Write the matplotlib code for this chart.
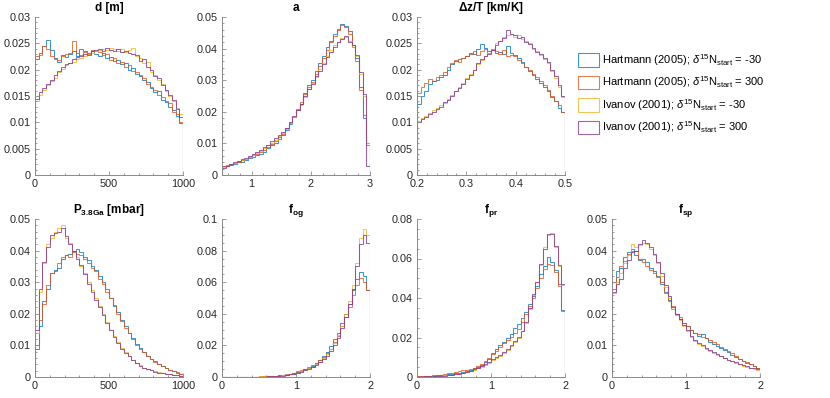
import numpy as np
import matplotlib.pyplot as plt
from matplotlib.patches import Patch
from matplotlib.ticker import FuncFormatter, MultipleLocator, AutoMinorLocator

plt.rcParams['font.family'] = ['Liberation Sans', 'DejaVu Sans']
plt.rcParams['mathtext.fontset'] = 'custom'
plt.rcParams['mathtext.rm'] = 'Liberation Sans'
plt.rcParams['mathtext.it'] = 'Liberation Sans:italic'
plt.rcParams['mathtext.bf'] = 'Liberation Sans:bold'

series_labels = [r'Hartmann (2005); $\delta^{15}$N$_{\rm start}$ = -30',
                 r'Hartmann (2005); $\delta^{15}$N$_{\rm start}$ = 300',
                 r'Ivanov (2001); $\delta^{15}$N$_{\rm start}$ = -30',
                 r'Ivanov (2001); $\delta^{15}$N$_{\rm start}$ = 300']
colors = ['#0072BD', '#D95319', '#EDB120', '#7E2F8E']

# --- histogram values (probability per bin), 40 bins each ---
d_h30 = [0.0220,0.0232,0.0245,0.0256,0.0238,0.0222,0.0215,0.0228,0.0224,0.0230,0.0236,0.0226,0.0240,0.0235,0.0232,0.0236,0.0230,0.0226,0.0232,0.0222,
         0.0224,0.0216,0.0218,0.0210,0.0212,0.0200,0.0204,0.0192,0.0188,0.0180,0.0176,0.0166,0.0158,0.0160,0.0142,0.0138,0.0130,0.0124,0.0112,0.0098]
d_h300 = [0.0225,0.0228,0.0245,0.0240,0.0225,0.0220,0.0218,0.0226,0.0230,0.0232,0.0255,0.0232,0.0228,0.0234,0.0230,0.0238,0.0236,0.0234,0.0228,0.0230,
          0.0218,0.0222,0.0212,0.0214,0.0206,0.0208,0.0198,0.0196,0.0190,0.0184,0.0172,0.0168,0.0162,0.0152,0.0148,0.0140,0.0136,0.0120,0.0116,0.0100]
d_i30 = [0.0140,0.0152,0.0162,0.0170,0.0178,0.0185,0.0195,0.0202,0.0208,0.0212,0.0215,0.0220,0.0222,0.0225,0.0230,0.0232,0.0236,0.0238,0.0240,0.0238,
         0.0242,0.0240,0.0236,0.0240,0.0234,0.0238,0.0242,0.0226,0.0222,0.0212,0.0214,0.0196,0.0190,0.0180,0.0172,0.0160,0.0150,0.0140,0.0128,0.0115]
d_i300 = [0.0145,0.0158,0.0165,0.0172,0.0180,0.0190,0.0198,0.0205,0.0210,0.0212,0.0220,0.0224,0.0226,0.0230,0.0228,0.0236,0.0238,0.0240,0.0236,0.0242,
          0.0238,0.0236,0.0240,0.0234,0.0236,0.0232,0.0230,0.0228,0.0216,0.0220,0.0205,0.0200,0.0188,0.0184,0.0170,0.0162,0.0152,0.0142,0.0125,0.0110]

a_h30 = [0.0030,0.0030,0.0032,0.0036,0.0040,0.0042,0.0048,0.0055,0.0058,0.0064,0.0068,0.0074,0.0085,0.0094,0.0102,0.0115,0.0126,0.0142,0.0160,0.0182,
         0.0205,0.0225,0.0260,0.0285,0.0300,0.0330,0.0355,0.0375,0.0405,0.0425,0.0445,0.0462,0.0478,0.0472,0.0455,0.0405,0.0370,0.0280,0.0180,0.0100]
a_h300 = [0.0028,0.0032,0.0035,0.0038,0.0042,0.0046,0.0050,0.0056,0.0062,0.0066,0.0072,0.0078,0.0088,0.0098,0.0108,0.0120,0.0130,0.0148,0.0165,0.0185,
          0.0210,0.0230,0.0255,0.0280,0.0295,0.0320,0.0345,0.0370,0.0395,0.0420,0.0440,0.0460,0.0475,0.0468,0.0445,0.0410,0.0360,0.0270,0.0190,0.0095]
a_i30 = [0.0025,0.0030,0.0034,0.0038,0.0044,0.0048,0.0052,0.0058,0.0064,0.0070,0.0076,0.0085,0.0094,0.0102,0.0112,0.0122,0.0132,0.0146,0.0165,0.0185,
         0.0205,0.0222,0.0248,0.0272,0.0290,0.0310,0.0335,0.0355,0.0375,0.0395,0.0410,0.0420,0.0432,0.0438,0.0425,0.0405,0.0375,0.0320,0.0250,0.0100]
a_i300 = [0.0022,0.0030,0.0035,0.0040,0.0045,0.0050,0.0055,0.0060,0.0066,0.0072,0.0080,0.0088,0.0096,0.0108,0.0118,0.0126,0.0135,0.0150,0.0168,0.0188,
          0.0205,0.0225,0.0250,0.0272,0.0288,0.0312,0.0330,0.0352,0.0372,0.0390,0.0405,0.0420,0.0430,0.0440,0.0420,0.0410,0.0380,0.0325,0.0255,0.0030]

dz_h30 = [0.0135,0.0150,0.0160,0.0172,0.0178,0.0180,0.0186,0.0190,0.0200,0.0210,0.0216,0.0220,0.0222,0.0225,0.0232,0.0230,0.0240,0.0248,0.0242,0.0236,
          0.0240,0.0232,0.0234,0.0230,0.0245,0.0232,0.0228,0.0222,0.0215,0.0205,0.0198,0.0190,0.0182,0.0175,0.0168,0.0160,0.0148,0.0140,0.0128,0.0120]
dz_h300 = [0.0155,0.0168,0.0175,0.0182,0.0178,0.0186,0.0190,0.0195,0.0205,0.0212,0.0218,0.0215,0.0222,0.0225,0.0230,0.0235,0.0228,0.0236,0.0240,0.0232,
           0.0238,0.0236,0.0230,0.0238,0.0226,0.0228,0.0225,0.0218,0.0212,0.0205,0.0200,0.0192,0.0186,0.0178,0.0170,0.0162,0.0150,0.0140,0.0132,0.0120]
dz_i30 = [0.0102,0.0108,0.0112,0.0118,0.0124,0.0128,0.0132,0.0136,0.0145,0.0152,0.0160,0.0168,0.0175,0.0185,0.0192,0.0200,0.0210,0.0218,0.0225,0.0232,
          0.0240,0.0250,0.0255,0.0262,0.0265,0.0268,0.0262,0.0265,0.0258,0.0255,0.0250,0.0240,0.0236,0.0228,0.0220,0.0212,0.0198,0.0185,0.0168,0.0148]
dz_i300 = [0.0100,0.0106,0.0110,0.0115,0.0120,0.0126,0.0130,0.0138,0.0142,0.0150,0.0160,0.0166,0.0172,0.0182,0.0190,0.0200,0.0212,0.0220,0.0225,0.0230,
           0.0238,0.0246,0.0255,0.0260,0.0275,0.0268,0.0265,0.0260,0.0262,0.0252,0.0248,0.0242,0.0234,0.0230,0.0222,0.0215,0.0200,0.0188,0.0170,0.0150]

p_h30 = [0.0090,0.0160,0.0240,0.0280,0.0330,0.0340,0.0345,0.0375,0.0385,0.0390,0.0400,0.0405,0.0395,0.0380,0.0370,0.0350,0.0340,0.0320,0.0300,0.0280,
         0.0250,0.0225,0.0205,0.0180,0.0160,0.0140,0.0122,0.0105,0.0092,0.0080,0.0068,0.0058,0.0050,0.0042,0.0035,0.0028,0.0022,0.0018,0.0014,0.0010]
p_h300 = [0.0100,0.0180,0.0230,0.0290,0.0330,0.0335,0.0360,0.0380,0.0385,0.0380,0.0395,0.0390,0.0385,0.0375,0.0360,0.0345,0.0335,0.0310,0.0295,0.0270,
          0.0250,0.0228,0.0200,0.0178,0.0155,0.0138,0.0120,0.0102,0.0088,0.0078,0.0066,0.0056,0.0048,0.0040,0.0034,0.0028,0.0022,0.0018,0.0015,0.0010]
p_i30 = [0.0140,0.0270,0.0360,0.0420,0.0440,0.0460,0.0470,0.0480,0.0440,0.0425,0.0400,0.0380,0.0350,0.0330,0.0300,0.0275,0.0250,0.0225,0.0200,0.0175,
         0.0150,0.0130,0.0110,0.0092,0.0078,0.0066,0.0055,0.0045,0.0037,0.0030,0.0026,0.0022,0.0018,0.0015,0.0012,0.0010,0.0008,0.0007,0.0005,0.0004]
p_i300 = [0.0150,0.0280,0.0365,0.0410,0.0450,0.0455,0.0460,0.0470,0.0445,0.0420,0.0400,0.0375,0.0355,0.0325,0.0295,0.0270,0.0245,0.0220,0.0195,0.0170,
          0.0148,0.0128,0.0108,0.0090,0.0076,0.0065,0.0054,0.0044,0.0036,0.0030,0.0025,0.0021,0.0017,0.0014,0.0012,0.0010,0.0008,0.0006,0.0005,0.0004]

og_h30 = [0,0,0,0,0,0.0001,0.0001,0.0002,0.0002,0.0003,0.0003,0.0004,0.0005,0.0006,0.0008,0.0010,0.0012,0.0015,0.0020,0.0026,
          0.0033,0.0040,0.0050,0.0060,0.0072,0.0088,0.0105,0.0130,0.0160,0.0195,0.0240,0.0280,0.0340,0.0400,0.0460,0.0550,0.0620,0.0665,0.0640,0.0550]
og_h300 = [0,0,0,0,0,0.0001,0.0001,0.0002,0.0002,0.0003,0.0004,0.0004,0.0006,0.0007,0.0009,0.0011,0.0013,0.0016,0.0021,0.0028,
           0.0035,0.0042,0.0052,0.0062,0.0075,0.0090,0.0110,0.0125,0.0150,0.0180,0.0220,0.0260,0.0320,0.0380,0.0440,0.0520,0.0580,0.0625,0.0600,0.0550]
og_i30 = [0,0,0,0,0,0.0001,0.0002,0.0002,0.0003,0.0003,0.0004,0.0004,0.0005,0.0005,0.0006,0.0008,0.0010,0.0013,0.0017,0.0022,
          0.0028,0.0035,0.0044,0.0055,0.0066,0.0080,0.0098,0.0120,0.0145,0.0175,0.0215,0.0265,0.0320,0.0400,0.0480,0.0580,0.0720,0.0880,0.0935,0.0900]
og_i300 = [0,0,0,0,0,0,0.0001,0.0001,0.0002,0.0002,0.0003,0.0003,0.0004,0.0005,0.0006,0.0007,0.0009,0.0012,0.0016,0.0021,
           0.0027,0.0034,0.0042,0.0052,0.0063,0.0076,0.0092,0.0112,0.0135,0.0165,0.0200,0.0250,0.0310,0.0380,0.0460,0.0560,0.0700,0.0840,0.0900,0.0845]

pr_h30 = [0.0003,0.0003,0.0004,0.0005,0.0006,0.0008,0.0010,0.0012,0.0014,0.0017,0.0020,0.0022,0.0026,0.0030,0.0036,0.0045,0.0052,0.0060,0.0075,0.0090,
          0.0120,0.0140,0.0160,0.0175,0.0195,0.0220,0.0250,0.0270,0.0300,0.0330,0.0370,0.0410,0.0460,0.0520,0.0560,0.0610,0.0580,0.0540,0.0470,0.0340]
pr_h300 = [0.0003,0.0004,0.0005,0.0006,0.0008,0.0010,0.0012,0.0014,0.0018,0.0022,0.0026,0.0030,0.0034,0.0036,0.0040,0.0048,0.0055,0.0065,0.0080,0.0095,
           0.0115,0.0130,0.0150,0.0170,0.0185,0.0205,0.0225,0.0245,0.0280,0.0320,0.0360,0.0400,0.0450,0.0500,0.0545,0.0570,0.0565,0.0530,0.0460,0.0335]
pr_i30 = [0.0002,0.0002,0.0003,0.0003,0.0004,0.0005,0.0006,0.0008,0.0010,0.0012,0.0014,0.0016,0.0020,0.0025,0.0030,0.0036,0.0044,0.0052,0.0062,0.0072,
          0.0085,0.0096,0.0106,0.0120,0.0135,0.0155,0.0178,0.0200,0.0232,0.0275,0.0345,0.0415,0.0480,0.0565,0.0660,0.0720,0.0730,0.0660,0.0560,0.0465]
pr_i300 = [0.0002,0.0002,0.0003,0.0003,0.0004,0.0005,0.0006,0.0007,0.0009,0.0011,0.0013,0.0016,0.0020,0.0026,0.0032,0.0038,0.0046,0.0055,0.0064,0.0074,
           0.0092,0.0100,0.0112,0.0125,0.0140,0.0160,0.0182,0.0205,0.0235,0.0280,0.0350,0.0420,0.0480,0.0570,0.0650,0.0725,0.0725,0.0665,0.0565,0.0470]

sp_h30 = [0.0300,0.0335,0.0345,0.0380,0.0395,0.0405,0.0385,0.0370,0.0375,0.0365,0.0345,0.0335,0.0320,0.0295,0.0270,0.0245,0.0215,0.0200,0.0185,0.0170,
          0.0160,0.0148,0.0138,0.0130,0.0135,0.0122,0.0112,0.0105,0.0098,0.0092,0.0085,0.0078,0.0070,0.0064,0.0056,0.0050,0.0045,0.0040,0.0034,0.0028]
sp_h300 = [0.0280,0.0315,0.0350,0.0368,0.0388,0.0400,0.0398,0.0375,0.0365,0.0350,0.0340,0.0330,0.0315,0.0300,0.0265,0.0240,0.0225,0.0200,0.0190,0.0172,
           0.0162,0.0150,0.0140,0.0135,0.0128,0.0124,0.0118,0.0110,0.0104,0.0096,0.0088,0.0082,0.0075,0.0066,0.0058,0.0050,0.0048,0.0042,0.0036,0.0030]
sp_i30 = [0.0265,0.0300,0.0330,0.0360,0.0385,0.0420,0.0410,0.0418,0.0425,0.0420,0.0405,0.0385,0.0360,0.0320,0.0285,0.0250,0.0215,0.0195,0.0180,0.0162,
          0.0145,0.0128,0.0115,0.0105,0.0098,0.0090,0.0083,0.0076,0.0070,0.0065,0.0060,0.0055,0.0050,0.0045,0.0040,0.0036,0.0032,0.0028,0.0025,0.0022]
sp_i300 = [0.0270,0.0295,0.0310,0.0345,0.0370,0.0395,0.0400,0.0420,0.0435,0.0425,0.0410,0.0390,0.0365,0.0330,0.0290,0.0255,0.0220,0.0198,0.0182,0.0165,
           0.0148,0.0130,0.0118,0.0108,0.0100,0.0092,0.0085,0.0078,0.0072,0.0066,0.0060,0.0055,0.0050,0.0046,0.0042,0.0038,0.0034,0.0030,0.0027,0.0024]

# title, series, x range, y max, y tick step, x ticks, axes rect [left, top] in px
panels = [
    ('d [m]', [d_h30, d_h300, d_i30, d_i300], (0, 1000), 0.03, 0.005, [0, 500, 1000], (35, 17)),
    ('a', [a_h30, a_h300, a_i30, a_i300], (0.5, 3), 0.05, 0.01, [1, 2, 3], (222, 17)),
    (r'$\mathbf{\Delta}$z/T [km/K]', [dz_h30, dz_h300, dz_i30, dz_i300], (0.2, 0.5), 0.03, 0.005, [0.2, 0.3, 0.4, 0.5], (417, 17)),
    (r'P$_{\mathbf{3.8Ga}}$ [mbar]', [p_h30, p_h300, p_i30, p_i300], (0, 1000), 0.05, 0.01, [0, 500, 1000], (35, 219)),
    (r'f$_{\mathbf{og}}$', [og_h30, og_h300, og_i30, og_i300], (0, 2), 0.1, 0.02, [0, 1, 2], (222, 219)),
    (r'f$_{\mathbf{pr}}$', [pr_h30, pr_h300, pr_i30, pr_i300], (0, 2), 0.08, 0.02, [0, 1, 2], (417, 219)),
    (r'f$_{\mathbf{sp}}$', [sp_h30, sp_h300, sp_i30, sp_i300], (0, 2), 0.05, 0.01, [0, 1, 2], (612, 219)),
]

W, H = 830, 398
fig = plt.figure(figsize=(W / 100, H / 100), dpi=100)
fmt = FuncFormatter(lambda v, p: '%g' % round(v, 6))
axc = '#8a8a8a'

for title, series, xr, ymax, ystep, xt, (lx, ty) in panels:
    ax = fig.add_axes([lx / W, 1 - (ty + 158) / H, 148 / W, 158 / H])
    for vals, c in zip(series, colors):
        edges = np.linspace(xr[0], xr[1], len(vals) + 1)
        ax.stairs(vals, edges, baseline=0, color=c, lw=0.75, alpha=0.75)
    ax.set_xlim(*xr)
    ax.set_ylim(0, ymax)
    ax.set_xticks(xt)
    ax.yaxis.set_major_locator(MultipleLocator(ystep))
    ax.xaxis.set_minor_locator(AutoMinorLocator())
    ax.yaxis.set_minor_locator(AutoMinorLocator())
    ax.xaxis.set_major_formatter(fmt)
    ax.yaxis.set_major_formatter(fmt)
    for s in ['top', 'right']:
        ax.spines[s].set_visible(False)
    for s in ['left', 'bottom']:
        ax.spines[s].set_color(axc)
        ax.spines[s].set_linewidth(0.7)
    ax.tick_params(which='both', direction='in', colors=axc, labelcolor='#262626', labelsize=7.8, width=0.6)
    ax.tick_params(which='major', length=3, pad=3)
    ax.tick_params(which='minor', length=1.5)
    ax.set_title(title, fontsize=8.5, fontweight='bold', pad=4)

handles = [Patch(facecolor='none', edgecolor=c, lw=0.8, alpha=0.75) for c in colors]
fig.legend(handles, series_labels, loc='upper left', bbox_to_anchor=(578 / W, 1 - 52 / H),
           frameon=False, fontsize=8.0, handlelength=1.9, handleheight=1.5,
           labelspacing=0.6, handletextpad=0.3, borderpad=0, borderaxespad=0)

fig.savefig('out.png', dpi=100)
